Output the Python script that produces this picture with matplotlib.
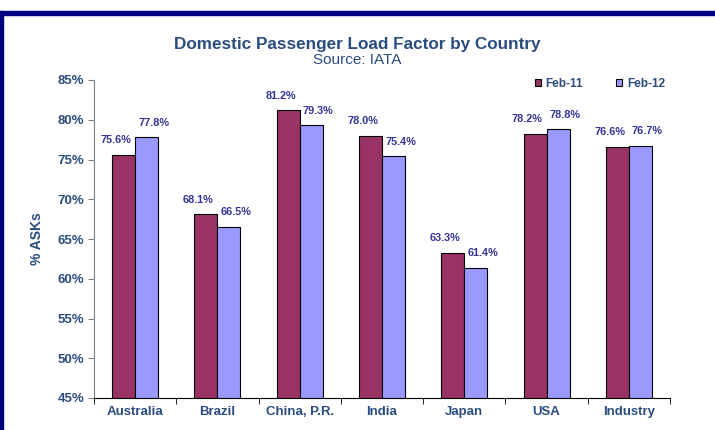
import matplotlib.pyplot as plt
import numpy as np
from matplotlib.patches import Rectangle

countries = ['Australia', 'Brazil', 'China, P.R.', 'India', 'Japan', 'USA', 'Industry']
feb11 = [75.6, 68.1, 81.2, 78.0, 63.3, 78.2, 76.6]
feb12 = [77.8, 66.5, 79.3, 75.4, 61.4, 78.8, 76.7]
series_names = ['Feb-11', 'Feb-12']

C11 = '#993366'
C12 = '#9999FF'
TXT = '#2B4C7E'
LBL = '#333399'

plt.rcParams['font.family'] = ['Liberation Sans', 'DejaVu Sans']

fig = plt.figure(figsize=(7.15, 4.3), dpi=100)
ax = fig.add_axes([94 / 715, 1 - 398 / 430, (670 - 94) / 715, (398 - 80) / 430])

x = np.arange(len(countries))
w = 0.28
b1 = ax.bar(x - w / 2, feb11, w, color=C11, edgecolor='black', linewidth=0.8, label=series_names[0])
b2 = ax.bar(x + w / 2, feb12, w, color=C12, edgecolor='black', linewidth=0.8, label=series_names[1])

# value labels, nudged outward like the original
for bars, vals, dx in ((b1, feb11, -5.5), (b2, feb12, 5)):
    for r, v in zip(bars, vals):
        ax.annotate(f"{v:.1f}%", (r.get_x() + r.get_width() / 2, v), xytext=(dx, 10.5),
                    textcoords='offset points', ha='center', va='center',
                    fontsize=7.8, fontweight='bold', color=LBL)

ax.set_ylim(45, 85)
ax.set_xlim(-0.5, len(countries) - 0.5)
ax.set_yticks(np.arange(45, 86, 5))
ax.set_yticklabels([f"{t}%" for t in range(45, 86, 5)], fontsize=9.5, fontweight='bold', color=TXT)
ax.set_xticks(x)
ax.set_xticklabels(countries, fontsize=9.5, fontweight='bold', color=TXT)
ax.set_xticks(np.arange(-0.5, len(countries)), minor=True)
ax.tick_params(axis='x', which='major', length=0, pad=6)
ax.tick_params(axis='x', which='minor', length=4, color='black', direction='out')
ax.tick_params(axis='y', length=4, color='#808080', direction='out', pad=3)
ax.spines['top'].set_visible(False)
ax.spines['right'].set_visible(False)
ax.spines['left'].set_color('#808080')
ax.spines['bottom'].set_color('black')
ax.set_ylabel('% ASKs', fontsize=10, fontweight='bold', color=TXT, labelpad=10)

ax.legend(loc='upper right', bbox_to_anchor=(1.01, 1.04), ncol=2, frameon=False,
          handlelength=0.5, handleheight=0.5, handletextpad=0.4, columnspacing=2.8,
          prop={'weight': 'bold', 'size': 8.5}, labelcolor=TXT)

fig.text(0.5, 1 - 44 / 430, 'Domestic Passenger Load Factor by Country', ha='center', va='center',
         fontsize=12.3, fontweight='bold', color=TXT)
fig.text(0.5, 1 - 60 / 430, 'Source: IATA', ha='center', va='center', fontsize=11, color=TXT)

# navy frame on top and left
fig.add_artist(Rectangle((0, 1 - 15 / 430), 1, 4 / 430, transform=fig.transFigure, color='#000080'))
fig.add_artist(Rectangle((0, 0), 3 / 715, 1 - 11 / 430, transform=fig.transFigure, color='#000080'))

plt.savefig('out.png', dpi=100)
